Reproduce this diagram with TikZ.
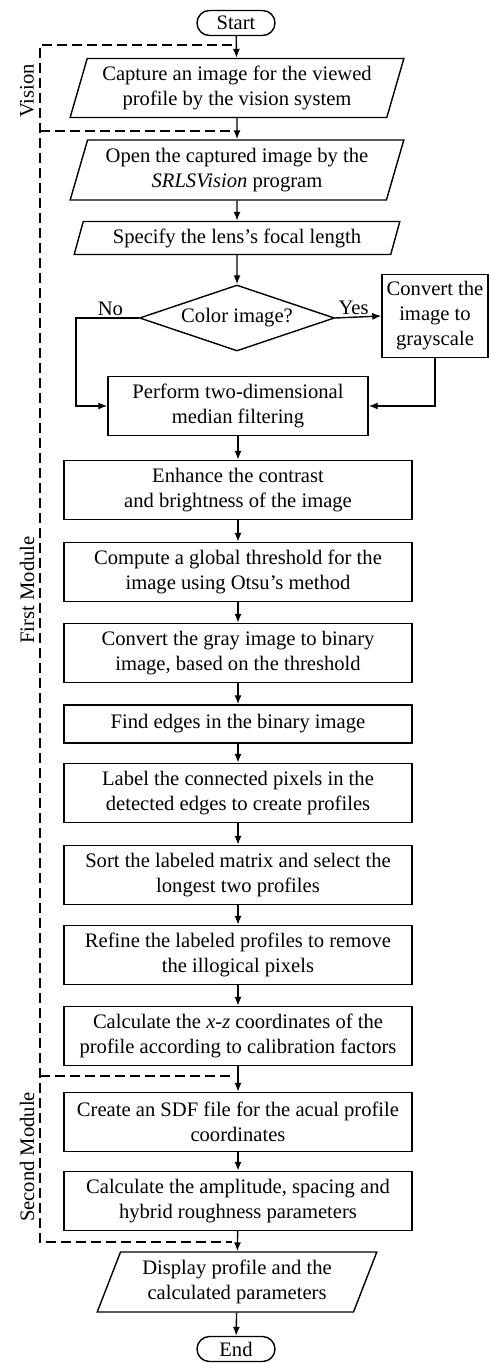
\documentclass[tikz,border=0pt]{standalone}
\usepackage{fontspec}
\setmainfont{Liberation Serif}
\usetikzlibrary{positioning,arrows.meta,shapes.geometric,shapes.misc}

\begin{document}
\begin{tikzpicture}[x=0.5pt, y=-0.5pt, font=\fontsize{10.3}{12.5}\selectfont, line width=0.7pt,
  proc/.style={draw, rectangle, align=center, minimum width=174pt, minimum height=29.5pt, inner sep=1pt},
  io/.style={draw, trapezium, trapezium left angle=72, trapezium right angle=108,
    trapezium stretches=true, align=center, inner sep=1pt},
  term/.style={draw, rounded rectangle, minimum width=41pt, minimum height=12.5pt, inner sep=1pt},
  flow/.style={-{Latex[length=4.5pt,width=3.5pt]}},
  modframe/.style={dash pattern=on 5pt off 2.5pt}]
\useasboundingbox (0,0) rectangle (490,1363);
% terminals and input steps
\node[term] (start) at (236,23) {Start};
\node[io, minimum width=167pt, minimum height=29.5pt] (capture) at (237,88) {Capture an image for the viewed\\ profile by the vision system};
\node[io, minimum width=167pt, minimum height=30pt] (open) at (237,170) {Open the captured image by the\\ \textit{SRLSVision} program};
\node[io, minimum width=163pt, minimum height=16.5pt] (lens) at (237,238) {Specify the lens's focal length};
% colour test
\node[draw, diamond, aspect=2.95, minimum width=97.5pt, minimum height=33pt, inner sep=0pt] (color) at (237,318) {Color image?};
\node[draw, align=center, minimum width=53pt, minimum height=41.5pt, inner sep=1pt] (gray) at (435,316) {Convert the\\ image to\\ grayscale};
\node[proc, minimum width=130pt] (median) at (238,406) {Perform two-dimensional\\ median filtering};
% image processing chain
\node[proc] (enhance) at (238,490) {Enhance the contrast\\ and brightness of the image};
\node[proc] (otsu) at (238,572) {Compute a global threshold for the\\ image using Otsu's method};
\node[proc] (binary) at (238,653) {Convert the gray image to binary\\ image, based on the threshold};
\node[proc, minimum height=19pt] (edges) at (238,724) {Find edges in the binary image};
\node[proc] (label) at (238,793) {Label the connected pixels in the\\ detected edges to create profiles};
\node[proc] (sort) at (238,875) {Sort the labeled matrix and select the\\ longest two profiles};
\node[proc] (refine) at (238,955) {Refine the labeled profiles to remove\\ the illogical pixels};
\node[proc] (coords) at (238,1036) {Calculate the \textit{x-z} coordinates of the\\ profile according to calibration factors};
% roughness module
\node[proc] (sdf) at (238,1122) {Create an SDF file for the acual profile\\ coordinates};
\node[proc] (params) at (238,1201) {Calculate the amplitude, spacing and\\ hybrid roughness parameters};
\node[io, trapezium left angle=68, trapezium right angle=112, minimum width=140pt, minimum height=30pt] (display) at (237,1282) {Display profile and the\\ calculated parameters};
\node[term] (end) at (236,1349) {End};
% straight flow
\foreach \a/\b in {start/capture, capture/open, open/lens, lens/color, median/enhance, enhance/otsu,
  otsu/binary, binary/edges, edges/label, label/sort, sort/refine, refine/coords, coords/sdf,
  sdf/params, params/display, display/end}{\draw[flow] (\a) -- (\b);}
% branches
\draw[flow] (color.west) -- node[above, pos=0.45, inner sep=1pt]{No} ++(-63,0) |- (median.west);
\draw[flow] (color.east) -- node[above, pos=0.4, inner sep=1pt]{Yes} (gray.west);
\draw[flow] (gray.south) |- (median.east);
% module frames
\draw[modframe] (232,45) -| (40,1242) -- (232,1242);
\draw[modframe] (40,131) -- (232,131);
\draw[modframe] (40,1076) -- (232,1076);
\node[rotate=90] (vision) at (27,91) {Vision};
\node[rotate=90] (first) at (27,590) {First Module};
\node[rotate=90] (second) at (27,1157) {Second Module};
\end{tikzpicture}
\end{document}
